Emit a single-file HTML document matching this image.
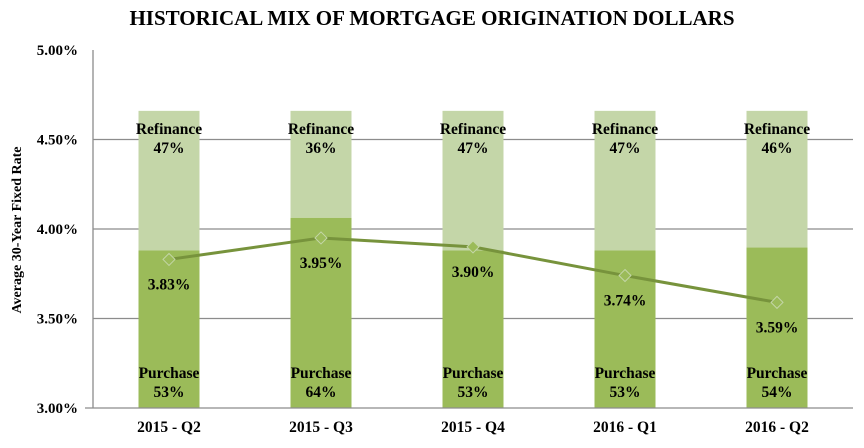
<!DOCTYPE html>
<html><head><meta charset="utf-8"><style>
html,body{margin:0;padding:0;background:#fff;}
svg{display:block;font-family:"Liberation Serif",serif;font-weight:bold;}
</style></head><body>
<svg id="chart" width="864" height="448" viewBox="0 0 864 448">
<text x="432" y="25" text-anchor="middle" font-size="21">HISTORICAL MIX OF MORTGAGE ORIGINATION DOLLARS</text>
<text transform="translate(21,230) rotate(-90)" text-anchor="middle" font-size="14">Average 30-Year Fixed Rate</text>
<g id="grid"></g><g id="bars"></g><g id="axes"></g><g id="line"></g><g id="labels"></g>
</svg>
<script>
const categories=["2015 - Q2","2015 - Q3","2015 - Q4","2016 - Q1","2016 - Q2"];
const purchasePct=[53,64,53,53,54];
const refinancePct=[47,36,47,47,46];
const rates=[3.83,3.95,3.90,3.74,3.59];
const yTicks=[3.0,3.5,4.0,4.5,5.0];
const barTop=4.66;
const NS="http://www.w3.org/2000/svg";
const left=93,right=853,y0=408,y1=50,yMin=3,yMax=5;
const band=(right-left)/categories.length;
const bw=61;
function y(v){return y0-(v-yMin)/(yMax-yMin)*(y0-y1);}
function xc(i){return left+band*(i+0.5);}
function mk(tag,attrs,parent,txt){const e=document.createElementNS(NS,tag);for(const k in attrs)e.setAttribute(k,attrs[k]);if(txt!==undefined)e.textContent=txt;document.getElementById(parent).appendChild(e);return e;}
yTicks.forEach(t=>{
 if(t>yMin&&t<yMax){const g=mk('line',{x1:left,x2:right,y1:y(t),y2:y(t),stroke:'#8c8c8c','stroke-width':1.3},'grid');
 
 }
 const l=mk('text',{x:78,y:y(t)+5,'text-anchor':'end','font-size':15},'axes',t.toFixed(2)+'%');
 
 
});
const ax=mk('line',{x1:left,x2:left,y1:y1,y2:y0,stroke:'#8c8c8c','stroke-width':1.3},'axes');


const bx=mk('line',{x1:left-8,x2:right,y1:y0,y2:y0,stroke:'#8c8c8c','stroke-width':1.3},'axes');


const totalH=y0-y(barTop);
categories.forEach((c,i)=>{
 const x=xc(i)-bw/2;
 const ph=totalH*purchasePct[i]/100, rh=totalH*refinancePct[i]/100;
 const r=mk('rect',{x:x,y:y0-ph-rh,width:bw,height:rh,fill:'#c4d6a8'},'bars');
 
 
 const p=mk('rect',{x:x,y:y0-ph,width:bw,height:ph,fill:'#9bbb59'},'bars');
 
 
 const t1=mk('text',{x:xc(i),y:134,'text-anchor':'middle','font-size':15.5},'labels','Refinance');
 
 
 const t2=mk('text',{x:xc(i),y:153,'text-anchor':'middle','font-size':15.5},'labels',refinancePct[i]+'%');
 
 
 const t3=mk('text',{x:xc(i),y:378,'text-anchor':'middle','font-size':15.5},'labels','Purchase');
 
 
 const t4=mk('text',{x:xc(i),y:397,'text-anchor':'middle','font-size':15.5},'labels',purchasePct[i]+'%');
 
 
 const cl=mk('text',{x:xc(i),y:432,'text-anchor':'middle','font-size':15.5},'labels',c);
 
 
});
const pts=rates.map((v,i)=>xc(i)+','+y(v)).join(' ');
const pl=mk('polyline',{points:pts,fill:'none',stroke:'#77933c','stroke-width':3},'line');


rates.forEach((v,i)=>{
 const cx=xc(i),cy=y(v);
 const m=mk('polygon',{points:`${cx},${cy-6} ${cx+6},${cy} ${cx},${cy+6} ${cx-6},${cy}`,fill:'#9bbb59',stroke:'#c4d6a8','stroke-width':1},'line');
 
 
 const t=mk('text',{x:cx,y:cy+30,'text-anchor':'middle','font-size':15.5},'labels',v.toFixed(2)+'%');
 
 
});
</script>
</body></html>
